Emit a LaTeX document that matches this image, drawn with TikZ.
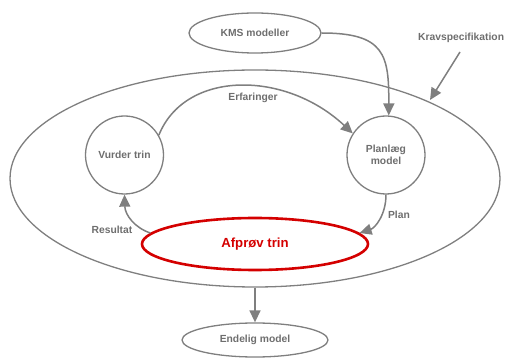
\documentclass[tikz,border=0pt]{standalone}
\usepackage{fontspec}
\setmainfont{Liberation Sans}
\usetikzlibrary{shapes.geometric,arrows.meta}
\definecolor{lgray}{HTML}{7F7F7F}
\definecolor{tgray}{HTML}{6E6E6E}
\definecolor{redline}{HTML}{D40000}
\tikzset{
  shp/.style={draw=lgray, line width=1.3pt, inner sep=0pt, font=\bfseries\fontsize{10.3}{12}\selectfont, text=tgray},
  ell/.style={shp, ellipse},
  circ/.style={shp, circle, minimum size=78pt, align=center},
  conn/.style={draw=lgray, line width=1.5pt, -{Triangle[length=12pt,width=11pt]}},
  lbl/.style={font=\bfseries\fontsize{10.3}{12}\selectfont, text=tgray, inner sep=0pt},
}
\begin{document}
\begin{tikzpicture}[x=1pt,y=-1pt]
\useasboundingbox (0,0) rectangle (509,358);
\node[ell, minimum width=490pt, minimum height=217pt] (big) at (255,178.5) {};
\node[ell, minimum width=132pt, minimum height=40pt] (kms) at (255,33) {KMS modeller};
\node[circ] (v) at (124.5,155) {Vurder trin};
\node[circ] (p) at (386,155) {Planlæg\\model};
\node[ell, draw=redline, line width=2.6pt, minimum width=226pt, minimum height=52pt, text=redline, font=\bfseries\fontsize{13.2}{15}\selectfont] (a) at (255,244) {Afprøv trin};
\node[ell, minimum width=146pt, minimum height=34pt] (e) at (255,340) {Endelig model};
\node[lbl, anchor=west] (ks) at (418,38) {Kravspecifikation};
\coordinate (ksA) at (460,52);
\coordinate (ksB) at (430,100);
\node[lbl] (erf) at (253,98) {Erfaringer};
\node[lbl] (pl) at (399,215) {Plan};
\node[lbl] (res) at (112,230) {Resultat};
\draw[conn] (ksA) -- (ksB);
\draw[conn] (kms.east) .. controls (385,33) and (389,55) .. (p.86);
\draw[conn] (v.30) .. controls (185,70) and (285,70) .. (p.147);
\draw[conn] (p.south) .. controls (386,215) and (375,228) .. (a.6);
\draw[conn] (a.174) .. controls (135,228) and (125,215) .. (v.south);
\draw[conn] (big.south) -- (e.north);
\end{tikzpicture}
\end{document}
